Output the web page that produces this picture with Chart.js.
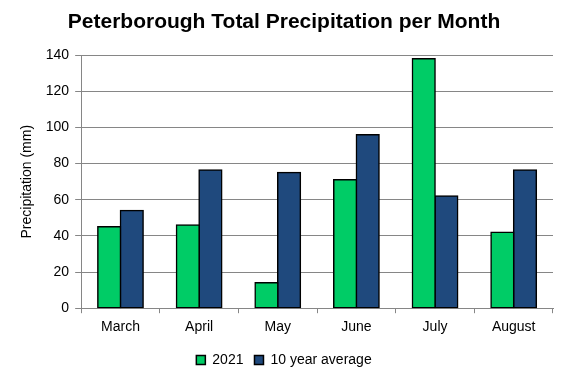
<!DOCTYPE html>
<html>
<head>
<meta charset="utf-8">
<script src="https://cdn.jsdelivr.net/npm/chart.js@4"></script>
<style>
  html, body { margin: 0; padding: 0; background: #fff; }
  #wrap { width: 567px; height: 378px; }
</style>
</head>
<body>
<div id="wrap"><canvas id="chart" width="567" height="378"></canvas></div>
<script>
const months = ["March", "April", "May", "June", "July", "August"];
const precip2021 = [45, 46, 14, 71, 138, 42];
const tenYearAvg = [54, 76.5, 75, 96, 62, 76.5];
const yTicks = [0, 20, 40, 60, 80, 100, 120, 140];

const font = "'Liberation Sans', Arial, sans-serif";
const gridGray = "#868686";

let ctx = document.getElementById("chart").getContext("2d");

new Chart(ctx, {
    type: "bar",
    data: {
        labels: months,
        datasets: [
            {
                label: "2021",
                data: precip2021,
                backgroundColor: "#00CC66",
                borderColor: "#000",
                borderWidth: 1.5,
                borderSkipped: false,
                inflateAmount: 0.8
            },
            {
                label: "10 year average",
                data: tenYearAvg,
                backgroundColor: "#1F497D",
                borderColor: "#000",
                borderWidth: 1.5,
                borderSkipped: false,
                inflateAmount: 0.8
            }
        ]
    },
    options: {
        responsive: false,
        animation: false,
        categoryPercentage: 0.575,
        barPercentage: 1,
        layout: { padding: { left: 15, right: 14, top: 0, bottom: 1 } },
        plugins: {
            title: {
                display: true,
                text: "Peterborough Total Precipitation per Month",
                color: "#000",
                font: { family: font, size: 21, weight: "bold" },
                padding: { top: 10, bottom: 20 }
            },
            legend: {
                position: "bottom",
                labels: {
                    color: "#000",
                    boxWidth: 9,
                    boxHeight: 9,
                    padding: 11,
                    font: { family: font, size: 14 }
                }
            },
            tooltip: { enabled: false }
        },
        scales: {
            x: {
                grid: {
                    offset: true,
                    drawOnChartArea: false,
                    color: gridGray,
                    tickLength: 5
                },
                border: { color: gridGray },
                ticks: {
                    color: "#000",
                    padding: 6,
                    font: { family: font, size: 14 }
                }
            },
            y: {
                min: 0,
                max: 140,
                afterBuildTicks: (axis) => {
                    axis.ticks = yTicks.map(v => ({ value: v }));
                },
                grid: { color: gridGray, tickLength: 6 },
                border: { color: gridGray },
                ticks: {
                    color: "#000",
                    padding: 6,
                    font: { family: font, size: 14 }
                },
                title: {
                    display: true,
                    text: "Precipitation (mm)",
                    color: "#000",
                    font: { family: font, size: 14 },
                    padding: { bottom: 4 }
                }
            }
        }
    }
});
</script>
</body>
</html>
